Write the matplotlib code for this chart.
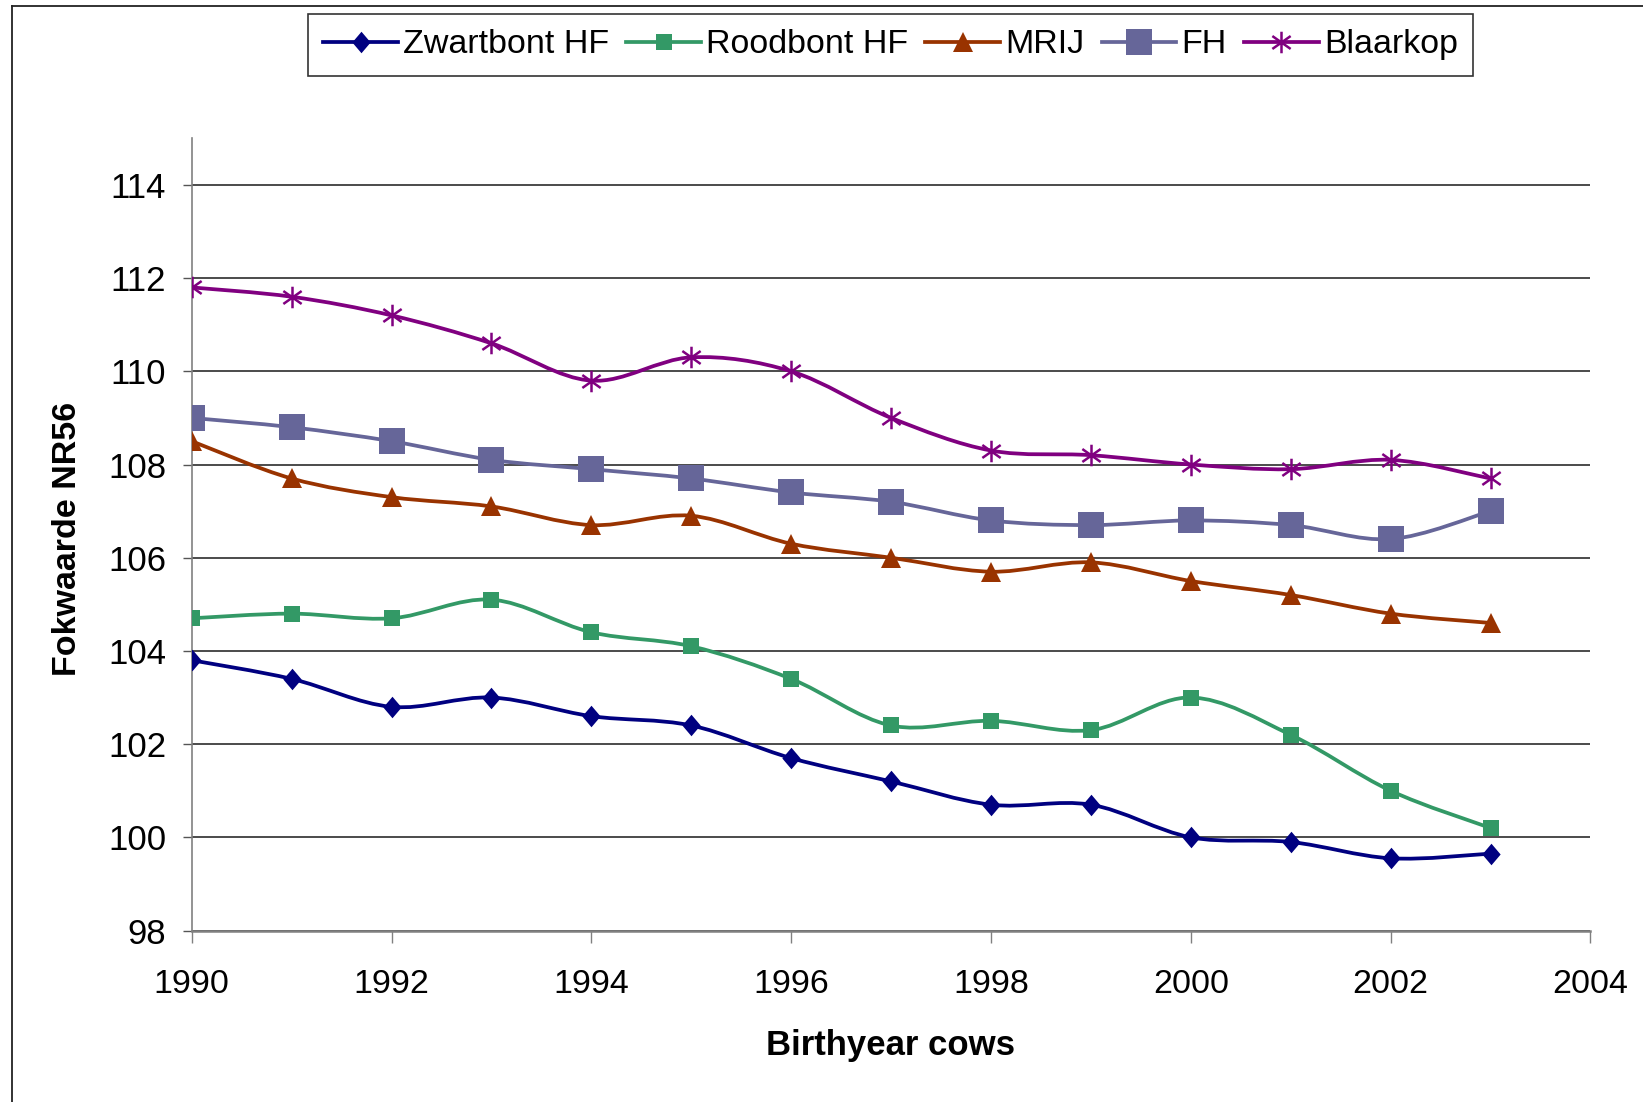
import numpy as np
import matplotlib

matplotlib.use("Agg")
import matplotlib.pyplot as plt
from matplotlib.lines import Line2D
from matplotlib.patches import PathPatch
from matplotlib.path import Path

plt.rcParams["font.family"] = ["Liberation Sans", "DejaVu Sans"]

years = [1990, 1991, 1992, 1993, 1994, 1995, 1996, 1997, 1998, 1999, 2000, 2001, 2002, 2003]
zwartbont = [103.8, 103.4, 102.8, 103.0, 102.6, 102.4, 101.7, 101.2, 100.7, 100.7, 100.0, 99.9, 99.55, 99.65]
roodbont = [104.7, 104.8, 104.7, 105.1, 104.4, 104.1, 103.4, 102.4, 102.5, 102.3, 103.0, 102.2, 101.0, 100.2]
mrij = [108.5, 107.7, 107.3, 107.1, 106.7, 106.9, 106.3, 106.0, 105.7, 105.9, 105.5, 105.2, 104.8, 104.6]
fh = [109.0, 108.8, 108.5, 108.1, 107.9, 107.7, 107.4, 107.2, 106.8, 106.7, 106.8, 106.7, 106.4, 107.0]
blaarkop = [111.8, 111.6, 111.2, 110.6, 109.8, 110.3, 110.0, 109.0, 108.3, 108.2, 108.0, 107.9, 108.1, 107.7]

labels = ["Zwartbont HF", "Roodbont HF", "MRIJ", "FH", "Blaarkop"]
colors = ["#000080", "#339966", "#993300", "#666699", "#800080"]

diamond = Path([(0, 1), (0.85, 0), (0, -1), (-0.85, 0), (0, 1)],
               [Path.MOVETO, Path.LINETO, Path.LINETO, Path.LINETO, Path.CLOSEPOLY])
star = Path([(0, -1), (0, 1), (-0.85, -0.6), (0.85, 0.6), (-0.85, 0.6), (0.85, -0.6)],
            [Path.MOVETO, Path.LINETO, Path.MOVETO, Path.LINETO, Path.MOVETO, Path.LINETO])
markers = [
    dict(marker=diamond, markersize=15.5, markeredgewidth=0),
    dict(marker="s", markersize=12, markeredgewidth=0),
    dict(marker="^", markersize=15, markeredgewidth=0),
    dict(marker="s", markersize=18.5, markeredgewidth=0),
    dict(marker=star, markersize=15.5, markeredgewidth=1.8, markerfacecolor="none"),
]


def smooth_path(xs, ys):
    # Excel-style smoothed line: cubic bezier segments through the points
    pts = np.column_stack([xs, ys]).astype(float)
    n = len(pts)
    verts, codes = [pts[0]], [Path.MOVETO]
    for i in range(n - 1):
        p0, p1, p2, p3 = pts[max(i - 1, 0)], pts[i], pts[i + 1], pts[min(i + 2, n - 1)]
        verts += [p1 + (p2 - p0) / 6, p2 - (p3 - p1) / 6, p2]
        codes += [Path.CURVE4] * 3
    return Path(verts, codes)


fig = plt.figure(figsize=(16.43, 11.02), dpi=100)
ax = fig.add_axes([0.1167, 0.1556, 0.968 - 0.1167, 0.8745 - 0.1556])

handles = []
for vals, lab, c, mk in zip([zwartbont, roodbont, mrij, fh, blaarkop], labels, colors, markers):
    ax.add_patch(PathPatch(smooth_path(years, vals), fill=False, edgecolor=c, lw=2.7,
                           joinstyle="round", capstyle="round", zorder=3))
    ax.plot(years, vals, ls="none", color=c, zorder=4, **mk)
    handles.append(Line2D([], [], color=c, lw=2.7, **mk))

ax.set_xlim(1990, 2004)
ax.set_ylim(98, 115)
ax.set_xticks(range(1990, 2005, 2))
ax.set_yticks(range(98, 115, 2))
ax.grid(axis="y", color="#1a1a1a", lw=1.1)
ax.set_axisbelow(True)
for s in ["top", "right"]:
    ax.spines[s].set_visible(False)
ax.spines["left"].set_color("#808080")
ax.spines["left"].set_linewidth(1.2)
ax.spines["bottom"].set_color("#808080")
ax.spines["bottom"].set_linewidth(1.8)
ax.tick_params(axis="x", direction="out", length=8.6, width=1, color="#808080", pad=19, labelsize=24.5)
ax.tick_params(axis="y", direction="out", length=6.5, width=1, color="#555555", pad=12, labelsize=25)

fig.text(68 / 1643, 1 - 538.6 / 1102, "Fokwaarde NR56", rotation=90, ha="center", va="center",
         fontsize=24.5, fontweight="bold")
fig.text(0.5423, 1 - 1045 / 1102, "Birthyear cows", ha="center", va="center",
         fontsize=25, fontweight="bold")

leg = fig.legend(handles, labels, loc="center", bbox_to_anchor=(0.542, 0.9592), ncol=5,
                 fontsize=24.5, frameon=True, fancybox=False, shadow=False,
                 handlelength=2.2, handletextpad=0.15, columnspacing=0.5,
                 borderpad=0.45, borderaxespad=0)
leg.get_frame().set_edgecolor("black")
leg.get_frame().set_linewidth(1.2)

# outer chart frame (left and top edges visible)
fig.add_artist(Line2D([11.5 / 1643, 11.5 / 1643], [0, 1 - 5.5 / 1102], color="#222222", lw=1.3,
                      transform=fig.transFigure))
fig.add_artist(Line2D([11.5 / 1643, 1], [1 - 5.5 / 1102, 1 - 5.5 / 1102], color="#222222", lw=1.3,
                      transform=fig.transFigure))

fig.savefig("out.png", dpi=100)
print("saved: out.png")
